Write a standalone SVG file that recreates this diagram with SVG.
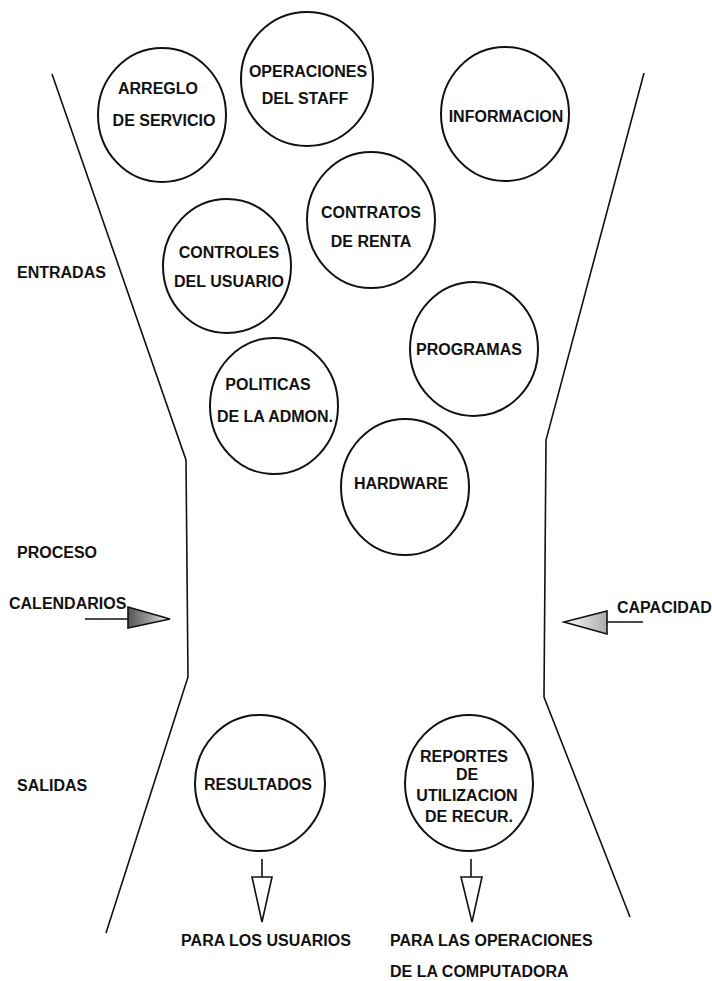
<svg xmlns="http://www.w3.org/2000/svg" width="712" height="981" viewBox="0 0 712 981">
<defs>
<style>
.n ellipse{fill:none;stroke:#111;stroke-width:2}
text{font-family:"Liberation Sans",Arial,sans-serif;font-size:16px;font-weight:bold;fill:#111}
.c{text-anchor:middle}
.f{fill:none;stroke:#111;stroke-width:1.6}
.ar{stroke:#111;stroke-width:1.6}
</style>
<linearGradient id="gL" x1="0" y1="0" x2="1" y2="0">
<stop offset="0" stop-color="#555"/><stop offset="0.5" stop-color="#999"/><stop offset="1" stop-color="#eee"/>
</linearGradient>
<linearGradient id="gR" x1="1" y1="0" x2="0" y2="0">
<stop offset="0" stop-color="#aaa"/><stop offset="0.6" stop-color="#ddd"/><stop offset="1" stop-color="#fff"/>
</linearGradient>
</defs>
<rect width="712" height="981" fill="#fff"/>
<g id="funnel">
<polyline class="f" points="52,74 186,460 188,677 106,933"/>
<polyline class="f" points="644,73 546,440 544,697 630,917"/>
</g>
<g id="labels">
<text x="17" y="278">ENTRADAS</text>
<text x="17" y="558">PROCESO</text>
<text x="9" y="609">CALENDARIOS</text>
<text x="617" y="613">CAPACIDAD</text>
<text x="17" y="791">SALIDAS</text>
<text class="c" x="266" y="946">PARA LOS USUARIOS</text>
<text x="390" y="946">PARA LAS OPERACIONES</text>
<text x="390" y="977">DE LA COMPUTADORA</text>
</g>
<g id="arreglo" class="n"><ellipse cx="162" cy="115" rx="64" ry="67"/><text class="c" x="158" y="94">ARREGLO</text><text class="c" x="164" y="126">DE SERVICIO</text></g>
<g id="operaciones" class="n"><ellipse cx="307" cy="79" rx="66" ry="67"/><text class="c" x="308" y="77">OPERACIONES</text><text class="c" x="305" y="104">DEL STAFF</text></g>
<g id="informacion" class="n"><ellipse cx="505" cy="114" rx="64" ry="67"/><text class="c" x="506" y="122">INFORMACION</text></g>
<g id="contratos" class="n"><ellipse cx="371" cy="220" rx="64" ry="68"/><text class="c" x="371" y="218">CONTRATOS</text><text class="c" x="371" y="247">DE RENTA</text></g>
<g id="controles" class="n"><ellipse cx="227" cy="266" rx="64" ry="67"/><text class="c" x="229" y="258">CONTROLES</text><text class="c" x="229" y="287">DEL USUARIO</text></g>
<g id="programas" class="n"><ellipse cx="474" cy="349" rx="64" ry="67"/><text class="c" x="469" y="355">PROGRAMAS</text></g>
<g id="politicas" class="n"><ellipse cx="274" cy="406" rx="64" ry="68"/><text class="c" x="268" y="390">POLITICAS</text><text class="c" x="275" y="422">DE LA ADMON.</text></g>
<g id="hardware" class="n"><ellipse cx="405" cy="487" rx="64" ry="68"/><text class="c" x="401" y="489">HARDWARE</text></g>
<g id="resultados" class="n"><ellipse cx="260" cy="783" rx="65" ry="68"/><text class="c" x="258" y="790">RESULTADOS</text></g>
<g id="reportes" class="n"><ellipse cx="469" cy="783" rx="64" ry="68"/><text class="c" x="464" y="762">REPORTES</text><text class="c" x="467" y="780">DE</text><text class="c" x="467" y="801">UTILIZACION</text><text class="c" x="469" y="822">DE RECUR.</text></g>
<g id="connectors">
<line class="ar" x1="85" y1="619" x2="128" y2="619"/>
<polygon class="ar" fill="url(#gL)" points="128,607 170,619 128,628"/>
<line class="ar" x1="607" y1="622" x2="643" y2="622"/>
<polygon class="ar" fill="url(#gR)" points="607,611 564,622 607,634"/>
<line class="ar" x1="262" y1="859" x2="262" y2="877"/>
<polygon class="ar" fill="#fff" points="252,877 272,877 262,922"/>
<line class="ar" x1="471" y1="859" x2="471" y2="877"/>
<polygon class="ar" fill="#fff" points="461,877 482,877 472,922"/>
</g>
</svg>
